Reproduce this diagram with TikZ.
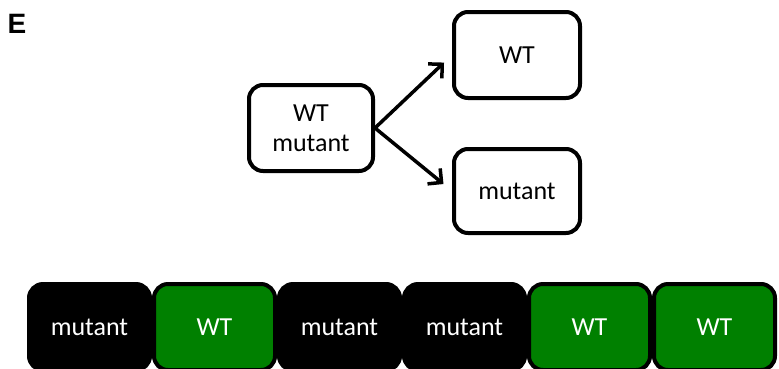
\documentclass[tikz,border=0pt]{standalone}
\usepackage{fontspec}
\setmainfont{Carlito}
\newfontfamily\panelfont{Liberation Sans}
\usetikzlibrary{positioning,arrows.meta}
\definecolor{wtgreen}{RGB}{0,128,0}

\begin{document}
\begin{tikzpicture}[x=1pt,y=-1pt,
   cellbox/.style={draw,line width=4pt,rounded corners=14pt,align=center,
      font=\fontsize{26}{30}\selectfont,inner sep=0pt},
   mutcell/.style={cellbox,fill=black,text=white,minimum width=121pt,minimum height=86pt},
   wtcell/.style={cellbox,fill=wtgreen,text=white,minimum width=121pt,minimum height=86pt},
   split/.style={line width=3.5pt,-{Straight Barb[length=10pt,width=20pt]},shorten >=11pt}]
   \useasboundingbox (0,0) rectangle (779,368);
   \node[font=\panelfont\bfseries\fontsize{28}{32}\selectfont] (lbl) at (17,24) {E};

   % parent and daughters
   \node[cellbox,minimum width=124pt,minimum height=86pt] (mix) at (311,128) {WT\\mutant};
   \node[cellbox,minimum width=126pt,minimum height=86pt] (wt) at (517,55) {WT};
   \node[cellbox,minimum width=126pt,minimum height=84pt] (mut) at (517,191) {mutant};
   \draw[split] (mix.east) -- (wt.west);
   \draw[split] (mix.east) -- (mut.west);

   % row of cells
   \node[mutcell] (c1) at (89.5,327) {mutant};
   \node[wtcell] (c2) at (214.5,327) {WT};
   \node[mutcell] (c3) at (339.5,327) {mutant};
   \node[mutcell] (c4) at (464.5,327) {mutant};
   \node[wtcell] (c5) at (589.5,327) {WT};
   \node[wtcell] (c6) at (714.5,327) {WT};
\end{tikzpicture}
\end{document}
